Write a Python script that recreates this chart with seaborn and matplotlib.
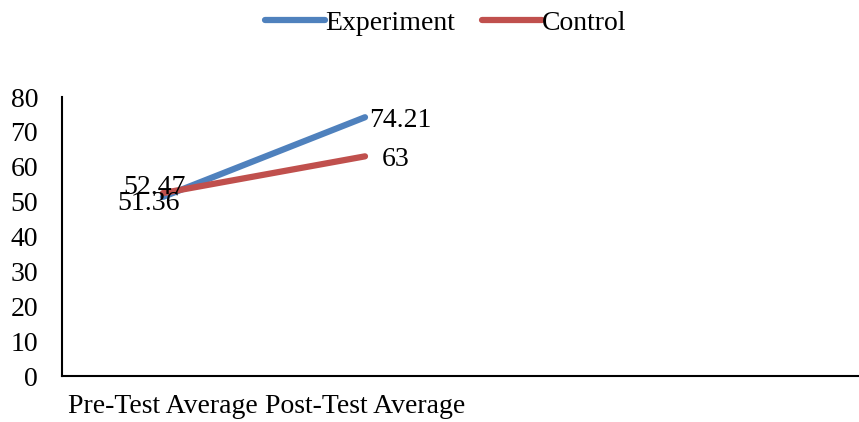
import pandas as pd
import numpy as np
import matplotlib.pyplot as plt
import seaborn as sns

# data
categories = ['Pre-Test Average', 'Post-Test Average']
experiment = [51.36, 74.21]
control = [52.47, 63]
series_names = ['Experiment', 'Control']
palette = ['#4F81BD', '#C0504D']

df = pd.DataFrame({
    'pos': [0, 1, 0, 1],
    'score': experiment + control,
    'group': [series_names[0]] * 2 + [series_names[1]] * 2,
})

sns.set_style('white')
plt.rcParams['font.family'] = ['Liberation Serif', 'DejaVu Serif']
plt.rcParams['text.color'] = 'black'
plt.rcParams['xtick.color'] = 'black'
plt.rcParams['ytick.color'] = 'black'

fs = 20
fig = plt.figure(figsize=(8.59, 4.22), dpi=100)
ax = fig.add_axes([0.072, 0.109, 0.927, 0.661])

sns.lineplot(data=df, x='pos', y='score', hue='group', palette=palette,
             linewidth=4.5, ax=ax, legend=True)
for line in ax.get_lines():
    line.set_solid_capstyle('round')

# data labels
ax.annotate(f'{experiment[0]:g}', (0, experiment[0]), xytext=(-10, -5),
            textcoords='offset points', ha='center', va='center', fontsize=fs)
ax.annotate(f'{control[0]:g}', (0, control[0]), xytext=(-6, 4),
            textcoords='offset points', ha='center', va='center', fontsize=fs)
ax.annotate(f'{experiment[1]:g}', (1, experiment[1]), xytext=(3, -2),
            textcoords='offset points', ha='left', va='center', fontsize=fs)
ax.annotate(f'{control[1]:g}', (1, control[1]), xytext=(12, -2),
            textcoords='offset points', ha='left', va='center', fontsize=fs)

ax.set_xlim(-0.5, 3.44)
ax.set_ylim(0, 80)
ax.set_yticks(range(0, 81, 10))
ax.set_xticks([0, 1])
ax.set_xticklabels(categories)
ax.tick_params(axis='both', labelsize=fs, length=0)
ax.tick_params(axis='x', pad=13)
ax.tick_params(axis='y', pad=17)
ax.set_xlabel('')
ax.set_ylabel('')
for side in ['top', 'right']:
    ax.spines[side].set_visible(False)
for side in ['left', 'bottom']:
    ax.spines[side].set_color('black')
    ax.spines[side].set_linewidth(1.5)

handles, labels = ax.get_legend_handles_labels()
ax.get_legend().remove()
for h in handles:
    h.set_solid_capstyle('round')
    h.set_linewidth(4.5)
fig.legend(handles, labels, loc='center', bbox_to_anchor=(0.519, 0.945),
           ncol=2, frameon=False, fontsize=fs, handlelength=2.15,
           handletextpad=0.0, columnspacing=1.0)

fig.savefig('out.png', dpi=100)
